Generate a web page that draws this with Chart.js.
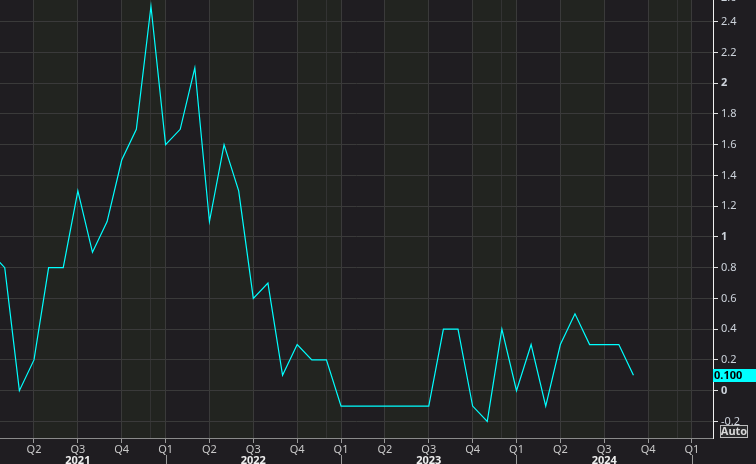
<!DOCTYPE html>
<html>
<head>
<meta charset="utf-8">
<script src="https://cdn.jsdelivr.net/npm/chart.js@4.4.1/dist/chart.umd.min.js"></script>
<style>
html,body{margin:0;padding:0;background:#1f1d21;}
#wrap{width:756px;height:464px;position:relative;}
</style>
</head>
<body>
<div id="wrap"><canvas id="c" width="756" height="464"></canvas></div>
<script>
// ---- data ----
const monthLabels = [
  '2021-01','2021-02','2021-03','2021-04','2021-05','2021-06','2021-07','2021-08','2021-09','2021-10','2021-11','2021-12',
  '2022-01','2022-02','2022-03','2022-04','2022-05','2022-06','2022-07','2022-08','2022-09','2022-10','2022-11','2022-12',
  '2023-01','2023-02','2023-03','2023-04','2023-05','2023-06','2023-07','2023-08','2023-09','2023-10','2023-11','2023-12',
  '2024-01','2024-02','2024-03','2024-04','2024-05','2024-06','2024-07','2024-08','2024-09'
];
const seriesValues = [
  0.9, 0.8, 0.0, 0.2, 0.8, 0.8, 1.3, 0.9, 1.1, 1.5, 1.7, 2.5,
  1.6, 1.7, 2.1, 1.1, 1.6, 1.3, 0.6, 0.7, 0.1, 0.3, 0.2, 0.2,
  -0.1, -0.1, -0.1, -0.1, -0.1, -0.1, -0.1, 0.4, 0.4, -0.1, -0.2, 0.4,
  0.0, 0.3, -0.1, 0.3, 0.5, 0.3, 0.3, 0.3, 0.1
];
const yTickValues = [-0.2, 0, 0.2, 0.4, 0.6, 0.8, 1, 1.2, 1.4, 1.6, 1.8, 2, 2.2, 2.4];
const topPartialTick = '2.6';
const quarterLabels = ['Q1', 'Q2', 'Q3', 'Q4'];
const yearLabels = ['2021', '2022', '2023', '2024'];
const lastValueLabel = '0.100';
const autoLabel = 'Auto';

// month index (Jan 2021 = 0)
const baseYear = 2021;
function monthIndex(lbl){ const p = lbl.split('-'); return (parseInt(p[0]) - baseYear) * 12 + (parseInt(p[1]) - 1); }
const points = monthLabels.map((m, i) => ({ x: monthIndex(m), y: seriesValues[i] }));

// x tick positions: quarter starts, plus December markers
const quarterTicks = [];
for (let m = 3; m <= 48; m += 3) quarterTicks.push(m);
const decTicks = [11, 23, 35, 47];
const allXTicks = quarterTicks.concat(decTicks).sort((a, b) => a - b);

const FONT = '"Noto Sans", "DejaVu Sans", sans-serif';

const bgPlugin = {
  id: 'bg',
  beforeDraw(chart) {
    const ctx = chart.ctx, a = chart.chartArea, xs = chart.scales.x;
    ctx.save();
    ctx.fillStyle = '#1f1d21';
    ctx.fillRect(0, 0, chart.width, chart.height);
    // alternating quarter bands (Q2 and Q4)
    ctx.fillStyle = '#222420';
    for (let m = 3; m <= 48; m += 6) {
      const x0 = Math.max(a.left, xs.getPixelForValue(m));
      const x1 = Math.min(a.right, xs.getPixelForValue(m + 3));
      if (x1 > x0) ctx.fillRect(x0, a.top, x1 - x0, a.bottom - a.top);
    }
    ctx.restore();
  },
  afterDraw(chart) {
    const ctx = chart.ctx, a = chart.chartArea, xs = chart.scales.x, ys = chart.scales.y;
    ctx.save();
    // partially visible top tick label
    ctx.fillStyle = '#cdd3db';
    ctx.font = '11px ' + FONT;
    ctx.textAlign = 'left';
    ctx.textBaseline = 'middle';
    ctx.fillText(topPartialTick, a.right + 8, -2);
    // year separators below quarter labels
    ctx.strokeStyle = '#9a9a9a';
    ctx.lineWidth = 1;
    for (let m = 12; m <= 48; m += 12) {
      const x = Math.round(xs.getPixelForValue(m)) + 0.5;
      ctx.beginPath(); ctx.moveTo(x, 455); ctx.lineTo(x, chart.height); ctx.stroke();
    }
    // year labels centred on Q3
    ctx.fillStyle = '#eeeeee';
    ctx.font = 'bold 11px ' + FONT;
    ctx.textAlign = 'center';
    ctx.textBaseline = 'top';
    yearLabels.forEach((y, i) => {
      const x = xs.getPixelForValue(i * 12 + 6);
      ctx.fillText(y, x, 455);
    });
    // last value box
    const lastV = seriesValues[seriesValues.length - 1];
    const yp = ys.getPixelForValue(lastV);
    ctx.fillStyle = '#00ffff';
    ctx.fillRect(a.right, Math.round(yp) - 6, chart.width - a.right, 13);
    ctx.fillStyle = '#000000';
    ctx.font = 'bold 11px ' + FONT;
    ctx.textAlign = 'left';
    ctx.textBaseline = 'middle';
    ctx.fillText(lastValueLabel, a.right + 1, Math.round(yp) + 0.5);
    // Auto box
    ctx.fillStyle = '#2a2a2c';
    ctx.fillRect(720.5, 425.5, 27, 12);
    ctx.strokeStyle = '#bdbdbd';
    ctx.strokeRect(720.5, 425.5, 27, 12);
    ctx.fillStyle = '#d8d8d8';
    ctx.font = 'bold 11px ' + FONT;
    ctx.textAlign = 'center';
    ctx.fillText(autoLabel, 734, 432);
    ctx.restore();
  }
};

new Chart(document.getElementById('c'), {
  type: 'line',
  data: {
    datasets: [{
      data: points,
      borderColor: '#00ffff',
      borderWidth: 1.2,
      pointRadius: 0,
      tension: 0,
      fill: false
    }]
  },
  options: {
    responsive: false,
    animation: false,
    devicePixelRatio: 1,
    layout: { padding: 0 },
    plugins: { legend: { display: false }, tooltip: { enabled: false } },
    scales: {
      x: {
        type: 'linear',
        min: 0.675,
        max: 49.44,
        afterBuildTicks(scale) { scale.ticks = allXTicks.map(v => ({ value: v })); },
        afterFit(scale) { scale.height = 26; scale.paddingLeft = 0; scale.paddingRight = 0; },
        ticks: {
          autoSkip: false,
          maxRotation: 0,
          padding: 0,
          color: '#c8c8c8',
          font: { family: FONT, size: 11 },
          callback(v) {
            if (decTicks.includes(v)) return '';
            return quarterLabels[(v / 3) % 4];
          }
        },
        grid: {
          color: ctx => (ctx.tick && decTicks.includes(ctx.tick.value)) ? '#333333' : '#3a3a3a',
          tickColor: ctx => (ctx.tick && decTicks.includes(ctx.tick.value)) ? 'rgba(0,0,0,0)' : '#9a9a9a',
          tickLength: 5,
          lineWidth: 1
        },
        border: { color: '#8a8a8a', width: 1 }
      },
      y: {
        type: 'linear',
        position: 'right',
        min: -0.3077,
        max: 2.541,
        afterBuildTicks(scale) { scale.ticks = yTickValues.map(v => ({ value: v })); },
        afterFit(scale) { scale.width = 43; scale.paddingTop = 0; scale.paddingBottom = 0; },
        ticks: {
          autoSkip: false,
          padding: 3,
          color: '#cdd3db',
          font: ctx => ({
            family: FONT,
            size: 11,
            weight: (ctx.tick && Math.abs(ctx.tick.value - Math.round(ctx.tick.value)) < 1e-9) ? 'bold' : 'normal'
          }),
          callback(v) { return String(Math.round(v * 10) / 10); }
        },
        grid: {
          color: '#3a3a3a',
          tickColor: '#e0e0e0',
          tickLength: 5,
          lineWidth: 1
        },
        border: { color: '#f0f0f0', width: 1 }
      }
    }
  },
  plugins: [bgPlugin]
});
</script>
</body>
</html>
